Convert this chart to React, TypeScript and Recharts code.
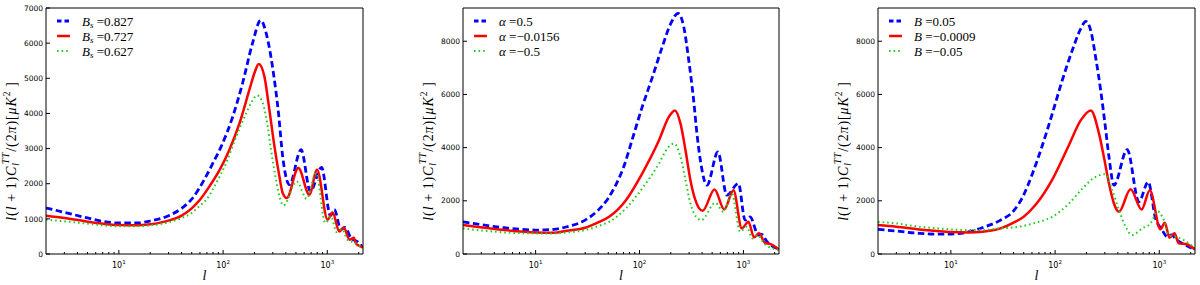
import { LineChart, Line, XAxis, YAxis, Legend } from 'recharts'

// multipole grid for the log axis
const lDomain = [2, 2200]
const lMajor = [10, 100, 1000]
const lMinor = [3, 4, 5, 6, 7, 8, 9, 20, 30, 40, 50, 60, 70, 80, 90, 200, 300, 400, 500, 600, 700, 800, 900, 2000]
const lTicks = [...lMinor, ...lMajor].sort((a, b) => a - b)

const yTicksBs = [0, 1000, 2000, 3000, 4000, 5000, 6000, 7000]
const yTicksWide = [0, 2000, 4000, 6000, 8000]

// panel 1: B_s
const bs0827: [number, number][] = [
  [2, 1310], [3, 1186], [5, 1025], [7, 930], [10, 882], [15, 882], [20, 939], [30, 1091], [40, 1300],
  [50, 1560], [66, 2115], [80, 2590], [96, 3062], [124, 3916], [154, 4866], [192, 6005], [229, 6650],
  [268, 6099], [304, 5151], [340, 4013], [373, 2778], [433, 1972], [560, 2968], [687, 1782], [881, 2465],
  [1069, 1090], [1167, 1261], [1352, 692], [1477, 757], [1686, 455], [1940, 350], [2200, 180],
]
const bs0727: [number, number][] = [
  [2, 1091], [3, 1025], [5, 920], [7, 863], [10, 825], [15, 816], [20, 844], [30, 949], [40, 1091],
  [50, 1300], [60, 1545], [74, 1924], [93, 2399], [115, 2968], [144, 3728], [179, 4676], [200, 5151],
  [220, 5407], [249, 5055], [278, 4107], [311, 3062], [347, 2209], [373, 1736], [408, 1594], [527, 2448],
  [673, 1688], [797, 2400], [1007, 976], [1124, 1184], [1303, 643], [1435, 757], [1638, 407], [1790, 460],
  [1900, 280], [2200, 190],
]
const bs0627: [number, number][] = [
  [2, 977], [3, 930], [5, 863], [7, 816], [10, 787], [15, 787], [20, 816], [30, 901], [40, 1025],
  [50, 1167], [60, 1380], [69, 1545], [86, 2021], [107, 2590], [134, 3347], [167, 4013], [190, 4350],
  [212, 4514], [240, 4297], [268, 3632], [288, 2968], [318, 2209], [347, 1640], [380, 1383], [508, 2067],
  [634, 1574], [780, 2305], [957, 882], [1085, 1070], [1227, 626], [1380, 711], [1560, 407], [1800, 330],
  [2200, 150],
]

// panel 2: alpha
const alphaP05: [number, number][] = [
  [2, 1212], [3, 1100], [5, 987], [7, 930], [10, 900], [15, 925], [20, 1025], [30, 1275], [40, 1650],
  [50, 2100], [60, 2650], [70, 3250], [85, 4300], [106, 5524], [133, 6649], [165, 7774], [199, 8651],
  [235, 9049], [267, 8524], [298, 7275], [332, 5775], [357, 4526], [385, 3525], [446, 2588], [568, 3836],
  [692, 2213], [895, 2651], [1038, 1275], [1158, 1399], [1393, 712], [1480, 750], [1700, 450], [2085, 214],
  [2200, 180],
]
const alphaM0156: [number, number][] = [
  [2, 1087], [5, 900], [10, 812], [15, 800], [20, 875], [30, 987], [40, 1187], [51, 1400], [74, 2025],
  [106, 3026], [154, 4275], [191, 5149], [219, 5400], [248, 4901], [277, 3900], [309, 2775], [345, 2025],
  [405, 1625], [527, 2426], [653, 1676], [802, 2400], [964, 964], [1117, 1211], [1265, 626], [1413, 776],
  [1614, 420], [1800, 380], [2200, 170],
]
const alphaM05: [number, number][] = [
  [2, 962], [5, 812], [10, 775], [15, 775], [20, 812], [30, 900], [40, 1050], [51, 1211], [74, 1714],
  [106, 2464], [154, 3401], [185, 3964], [214, 4151], [248, 3649], [277, 2775], [309, 1900], [350, 1400],
  [394, 1275], [536, 1925], [643, 1587], [773, 2276], [930, 837], [1073, 1024], [1220, 587], [1360, 712],
  [1600, 375], [2200, 150],
]

// panel 3: B
const bP005: [number, number][] = [
  [2, 925], [3, 862], [5, 775], [7, 750], [10, 750], [15, 837], [20, 987], [30, 1275], [40, 1620],
  [49, 2150], [61, 3050], [75, 4050], [94, 5275], [117, 6525], [146, 7650], [176, 8462], [197, 8750],
  [220, 8400], [245, 7400], [274, 6150], [301, 4900], [329, 3650], [367, 2588], [492, 3925], [637, 1962],
  [782, 2712], [920, 1340], [1064, 900], [1188, 650], [1300, 720], [1479, 520], [1800, 330], [2200, 150],
]
const bM0009: [number, number][] = [
  [2, 1087], [3, 1025], [5, 925], [7, 875], [10, 825], [15, 812], [20, 837], [30, 962], [40, 1180],
  [50, 1400], [65, 1850], [94, 2800], [136, 4100], [176, 5025], [220, 5400], [264, 4526], [294, 3649],
  [329, 2651], [367, 1900], [410, 1587], [530, 2437], [676, 1676], [811, 2400], [1026, 926], [1129, 1175],
  [1253, 612], [1397, 776], [1537, 400], [1800, 380], [2200, 170],
]
const bM005: [number, number][] = [
  [2, 1212], [3, 1150], [5, 1025], [7, 975], [10, 925], [15, 900], [20, 900], [30, 962], [45, 1024],
  [65, 1175], [94, 1400], [136, 1900], [183, 2462], [245, 2900], [300, 3000], [354, 2400], [410, 1650],
  [475, 1025], [550, 712], [685, 962], [824, 1150], [960, 1600], [1105, 1275], [1232, 712], [1429, 650],
  [1714, 525], [2200, 225],
]

const STYLES: Record<string, any> = {
  dashed: { stroke: '#0000ff', strokeWidth: 2.8, strokeDasharray: '6.5 3.5' },
  solid: { stroke: '#ff0000', strokeWidth: 2.5 },
  dotted: { stroke: '#22cc22', strokeWidth: 2, strokeDasharray: '1.6 3' },
}

interface Series {
  name: string
  sym: string
  sub?: string
  val: string
  style: string
  pts: [number, number][]
}

interface Panel {
  left: number
  width: number
  yw: number
  mr: number
  yMax: number
  yTicks: number[]
  series: Series[]
}

const panels: Panel[] = [
  {
    left: 0, width: 370, yw: 46, mr: 6, yMax: 7000, yTicks: yTicksBs,
    series: [
      { name: 'Bs=0.827', sym: 'B', sub: 's', val: ' =0.827', style: 'dashed', pts: bs0827 },
      { name: 'Bs=0.727', sym: 'B', sub: 's', val: ' =0.727', style: 'solid', pts: bs0727 },
      { name: 'Bs=0.627', sym: 'B', sub: 's', val: ' =0.627', style: 'dotted', pts: bs0627 },
    ],
  },
  {
    left: 400, width: 390, yw: 63, mr: 10, yMax: 9250, yTicks: yTicksWide,
    series: [
      { name: 'a=0.5', sym: 'α', val: ' =0.5', style: 'dashed', pts: alphaP05 },
      { name: 'a=-0.0156', sym: 'α', val: ' =\u22120.0156', style: 'solid', pts: alphaM0156 },
      { name: 'a=-0.5', sym: 'α', val: ' =\u22120.5', style: 'dotted', pts: alphaM05 },
    ],
  },
  {
    left: 800, width: 400, yw: 78, mr: 4, yMax: 9250, yTicks: yTicksWide,
    series: [
      { name: 'B=0.05', sym: 'B', val: ' =0.05', style: 'dashed', pts: bP005 },
      { name: 'B=-0.0009', sym: 'B', val: ' =\u22120.0009', style: 'solid', pts: bM0009 },
      { name: 'B=-0.05', sym: 'B', val: ' =\u22120.05', style: 'dotted', pts: bM005 },
    ],
  },
]

const SERIF = '"Liberation Serif", "DejaVu Serif", serif'
const SANS = '"DejaVu Sans", sans-serif'

function BottomTick({ x, y, payload }: any) {
  const major = lMajor.includes(payload.value)
  return (
    <g>
      <line x1={x} x2={x} y1={y} y2={y - (major ? 4 : 2)} stroke="#000" strokeWidth={1} />
      {major && (
        <text x={x} y={y + 14} textAnchor="middle" fontFamily={SANS} fontSize={8} fill="#000">
          10<tspan dy={-4} fontSize={5.5}>{Math.round(Math.log10(payload.value))}</tspan>
        </text>
      )}
    </g>
  )
}

function TopTick({ x, y, payload }: any) {
  const major = lMajor.includes(payload.value)
  return <line x1={x} x2={x} y1={y} y2={y + (major ? 4 : 2)} stroke="#000" strokeWidth={1} />
}

function YLabel({ viewBox }: any) {
  const cx = viewBox.x + viewBox.width - 35
  const cy = viewBox.y + viewBox.height / 2 + 20
  return (
    <text
      transform={`rotate(-90 ${cx} ${cy})`}
      x={cx}
      y={cy + 4.5}
      textAnchor="middle"
      fontFamily={SERIF}
      fontSize={14}
      letterSpacing={0.9}
      fill="#000"
    >
      <tspan fontStyle="italic">l</tspan>(<tspan fontStyle="italic">l</tspan>{'\u2009+\u20091)'}
      <tspan fontStyle="italic">C</tspan>
      <tspan fontStyle="italic" fontSize={9.5} dy={3}>l</tspan>
      <tspan fontStyle="italic" fontSize={9.5} dx={-2} dy={-9.5}>TT</tspan>
      <tspan dy={6.5}>/(2</tspan>
      <tspan fontStyle="italic">π</tspan>)[<tspan fontStyle="italic">μK</tspan>
      <tspan fontSize={9.5} dy={-6}>2</tspan>
      <tspan dy={6}>{'\u2009]'}</tspan>
    </text>
  )
}

function XLabel({ viewBox }: any) {
  return (
    <text x={viewBox.x + viewBox.width / 2} y={viewBox.y + 26} textAnchor="middle" fontFamily={SERIF} fontStyle="italic" fontSize={14} fill="#000">
      l
    </text>
  )
}

function PanelLegend({ series }: { series: Series[] }) {
  return (
    <svg width={170} height={46} style={{ display: 'block' }}>
      {series.map((s, i) => {
        const cy = 7 + i * 15
        const st = STYLES[s.style]
        return (
          <g key={s.name}>
            <line x1={2} x2={15} y1={cy} y2={cy} {...st} strokeDasharray={s.style === 'dashed' ? '4.5 3' : st.strokeDasharray} />
            <text x={27} y={cy + 4.5} fontFamily={SERIF} fontSize={13} fill="#000">
              <tspan fontStyle="italic">{s.sym}</tspan>
              {s.sub && <tspan fontStyle="italic" fontSize={9} dy={2.5}>{s.sub}</tspan>}
              <tspan dy={s.sub ? -2.5 : 0}>{s.val}</tspan>
            </text>
          </g>
        )
      })}
    </svg>
  )
}

function PanelChart({ p }: { p: Panel }) {
  return (
    <div style={{ position: 'absolute', left: p.left, top: 0 }}>
      <LineChart width={p.width} height={285} margin={{ top: 7, right: p.mr, bottom: 30, left: 0 }}>
        <XAxis
          xAxisId="b"
          dataKey="l"
          type="number"
          scale="log"
          domain={lDomain}
          allowDataOverflow
          ticks={lTicks}
          interval={0}
          height={1}
          tickSize={0}
          tickMargin={0}
          tickLine={false}
          tick={<BottomTick />}
          axisLine={{ stroke: '#000' }}
          label={{ content: (props: any) => <XLabel viewBox={props.viewBox} /> }}
        />
        <XAxis
          xAxisId="t"
          orientation="top"
          type="number"
          scale="log"
          domain={lDomain}
          allowDataOverflow
          ticks={lTicks}
          interval={0}
          height={1}
          tickSize={0}
          tickMargin={0}
          tickLine={false}
          tick={<TopTick />}
          axisLine={{ stroke: '#000' }}
        />
        <YAxis
          yAxisId="l"
          type="number"
          domain={[0, p.yMax]}
          allowDataOverflow
          ticks={p.yTicks}
          interval={0}
          width={p.yw}
          tickSize={-4}
          tickMargin={7}
          tickLine={{ stroke: '#000' }}
          axisLine={{ stroke: '#000' }}
          tick={{ fill: '#000', fontSize: 7.5, fontFamily: SANS }}
          label={{ content: (props: any) => <YLabel viewBox={props.viewBox} /> }}
        />
        <YAxis
          yAxisId="r"
          orientation="right"
          type="number"
          domain={[0, p.yMax]}
          allowDataOverflow
          ticks={p.yTicks}
          interval={0}
          width={1}
          tickSize={-4}
          tick={false}
          tickLine={{ stroke: '#000' }}
          axisLine={{ stroke: '#000' }}
        />
        <Legend
          layout="vertical"
          align="center"
          verticalAlign="middle"
          wrapperStyle={{ position: 'absolute', left: p.yw + 9, top: 14, width: 170, height: 46, margin: 0, padding: 0 }}
          content={() => <PanelLegend series={p.series} />}
        />
        {p.series.map(s => (
          <Line
            key={s.name}
            xAxisId="b"
            yAxisId="l"
            name={s.name}
            data={s.pts.map(([l, v]) => ({ l, v }))}
            dataKey="v"
            type="monotone"
            dot={false}
            activeDot={false}
            isAnimationActive={false}
            {...STYLES[s.style]}
          />
        ))}
      </LineChart>
    </div>
  )
}

export default function App() {
  return (
    <div style={{ position: 'absolute', left: 0, top: 0, width: 1200, height: 285, background: '#fff', overflow: 'hidden' }}>
      {panels.map((p, i) => (
        <PanelChart key={i} p={p} />
      ))}
    </div>
  )
}
